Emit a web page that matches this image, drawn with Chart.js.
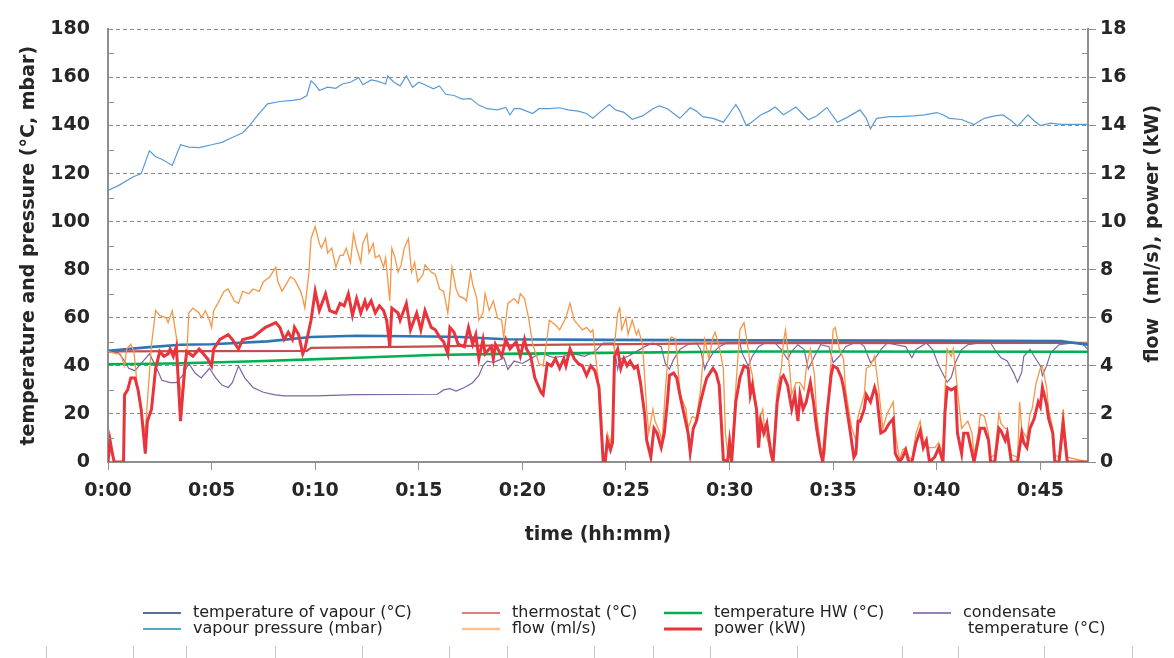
<!DOCTYPE html>
<html>
<head>
<meta charset="utf-8">
<script src="https://cdn.jsdelivr.net/npm/chart.js@4.4.1/dist/chart.umd.min.js"></script>
<style>
  html, body { margin: 0; padding: 0; background: #fff; }
  #wrap { width: 1174px; height: 658px; position: relative; }
</style>
</head>
<body>
<div id="wrap"><canvas id="chart"></canvas></div>
<script>
// time in minutes
const timeTicks = ['0:00', '0:05', '0:10', '0:15', '0:20', '0:25', '0:30', '0:35', '0:40', '0:45'];
const X_MAX = 47.3;

// left axis (°C, mbar)
const vapourPressure = [[0,113],[0.5,115],[1.2,118.6],[1.6,120],[2.0,129.5],[2.3,127],[2.6,126],[3.1,123.4],[3.5,132],[3.9,131],[4.4,130.8],[5.0,132],[5.5,133],[6.0,135],[6.5,137],[6.8,139.7],[7.2,144],[7.7,149],[8.3,150],[8.9,150.5],[9.3,151],[9.6,152.5],[9.8,158.6],[10.0,157],[10.2,154.6],[10.6,156],[11.0,155.5],[11.3,157.3],[11.7,158],[12.1,160],[12.3,157],[12.7,159],[13.0,158.5],[13.4,157.3],[13.5,160.6],[13.8,158],[14.1,156.5],[14.4,160.6],[14.7,155.9],[15.0,158],[15.3,157],[15.7,155.3],[16.0,156.5],[16.3,153],[16.7,152.5],[17.1,151],[17.5,151.2],[17.9,148.5],[18.3,147],[18.8,146.5],[19.2,147.5],[19.4,144.4],[19.6,147],[19.9,147],[20.2,146],[20.5,145],[20.8,147],[21.3,147],[21.8,147.4],[22.2,146.5],[22.7,146],[23.1,145],[23.4,143],[23.8,146],[24.2,148.7],[24.5,146.5],[24.9,145.5],[25.3,142.6],[25.8,144],[26.3,147],[26.6,148.2],[27.0,147],[27.3,145],[27.6,143],[28.1,147.4],[28.4,146],[28.7,143.7],[29.2,143],[29.7,141.4],[30.0,145],[30.3,148.7],[30.5,146],[30.8,140],[31.0,141],[31.5,144.4],[31.9,146],[32.2,147.7],[32.6,144.5],[32.9,146],[33.2,147.7],[33.5,145],[33.8,142.4],[34.2,144],[34.7,147.5],[34.9,145],[35.2,141.4],[35.7,143.5],[36.3,146.5],[36.6,143],[36.8,138.6],[37.1,143],[37.7,143.7],[38.2,143.7],[38.9,144],[39.4,144.4],[40.0,145.4],[40.3,144.5],[40.6,143],[41.2,142.5],[41.8,140.4],[42.3,143],[42.8,144],[43.2,144.4],[43.6,142],[43.9,139.7],[44.4,144.4],[44.7,142],[45.0,140],[45.5,141],[46.0,140.5],[47.3,140.5]];
const vapourTemp = [[0,46.3],[2,47.8],[3.5,48.8],[5,49],[7.7,50.2],[9.8,52],[12,52.5],[15.7,52.2],[17,52],[19.2,51.1],[24,50.8],[31,50.6],[40,50.5],[46,50.3],[47.3,48.8]];
const thermostat = [[0,46],[9.6,46.2],[9.8,47.5],[15,48],[20,48.6],[22,48.8],[31,49.5],[47.3,49.6]];
const tempHW = [[0,40.7],[3,41],[5,41.4],[7.5,42],[9.8,42.7],[12,43.4],[15.7,44.5],[19,45],[24,45.4],[31,46],[47.3,45.9]];
const condensate = [[0,46],[0.5,45.5],[0.8,42],[1.0,39],[1.3,38],[1.6,41],[2.0,45],[2.3,40],[2.6,34],[3.0,33],[3.3,33],[3.6,36],[3.9,41],[4.2,37],[4.5,35],[4.9,39],[5.2,35],[5.5,32],[5.8,31],[6.0,33],[6.3,40],[6.6,35],[7.0,31],[7.5,29],[8.0,28],[8.5,27.5],[10,27.5],[12,28],[15.9,28.2],[16.2,30],[16.5,30.5],[16.8,29.5],[17.2,31],[17.6,33],[17.9,36],[18.1,40],[18.3,42],[18.6,41.5],[18.9,42.5],[19.1,43.5],[19.3,38.5],[19.6,42],[20.0,41],[20.3,42.5],[20.7,44.5],[21.0,45],[21.5,43.5],[22.0,44],[22.5,45],[23.0,44],[23.5,46],[23.9,49.5],[24.4,49.5],[24.6,38.6],[24.7,42.7],[25.1,44],[25.4,45.4],[25.9,48],[26.3,49.5],[26.7,48],[26.9,41],[27.1,38.6],[27.3,42.7],[27.6,46.8],[28.0,49],[28.4,49.5],[28.6,46.8],[28.8,38.6],[28.9,41],[29.2,45.4],[29.5,48],[29.9,49.7],[30.5,49.5],[30.6,45.4],[30.9,40],[31.1,44],[31.4,48],[31.7,49.5],[32.2,49.5],[32.5,46.8],[32.8,42.7],[33.0,46],[33.3,48.8],[33.6,46.8],[33.8,38.6],[34.1,44],[34.4,48.8],[34.8,48],[35.0,41.4],[35.3,44],[35.6,48],[36.0,49.5],[36.3,49.5],[36.5,48],[36.8,41.4],[37.0,42.7],[37.3,46.8],[37.6,49.5],[38.5,48],[38.8,43.4],[39.0,46.8],[39.5,49.5],[39.8,46.8],[40.1,40],[40.5,33.2],[40.7,35.2],[40.9,41.4],[41.2,46.8],[41.5,48.8],[42.0,49.5],[42.6,49.5],[42.8,46.8],[43.1,43.4],[43.4,42],[43.7,37.3],[43.9,33.2],[44.1,37.3],[44.2,44],[44.5,46.8],[44.7,44],[45.0,40],[45.1,36],[45.3,40],[45.5,45.4],[45.9,48.8],[46.5,49.5],[47.0,49.5],[47.3,46.8]];

// right axis (ml/s, kW)
const flow = [[0,4.6],[0.4,4.5],[0.6,4.5],[0.8,4.0],[0.9,4.7],[1.1,4.9],[1.25,4.6],[1.4,3.3],[1.6,2.0],[1.8,1.2],[1.9,2.5],[2.1,4.9],[2.3,6.3],[2.5,6.1],[2.8,6.0],[2.9,5.8],[3.1,6.3],[3.3,5.2],[3.4,3.6],[3.6,2.5],[3.8,4.4],[3.9,6.2],[4.1,6.4],[4.4,6.2],[4.5,6.0],[4.7,6.3],[4.9,5.9],[5.0,5.6],[5.1,6.3],[5.3,6.6],[5.6,7.1],[5.8,7.2],[6.1,6.7],[6.3,6.6],[6.5,7.1],[6.8,7.0],[7.0,7.2],[7.3,7.1],[7.5,7.5],[7.8,7.7],[8.1,8.1],[8.2,7.5],[8.4,7.1],[8.6,7.4],[8.8,7.7],[9.0,7.6],[9.3,7.1],[9.4,6.8],[9.5,6.4],[9.7,7.9],[9.8,9.3],[10.0,9.8],[10.2,9.1],[10.3,8.9],[10.5,9.3],[10.6,8.7],[10.8,8.9],[11.0,8.1],[11.2,8.6],[11.35,8.6],[11.5,8.9],[11.7,8.3],[11.85,9.5],[12.0,8.9],[12.2,8.3],[12.3,9.1],[12.5,9.5],[12.6,8.7],[12.8,9.1],[12.9,8.5],[13.1,8.6],[13.3,8.1],[13.4,8.5],[13.6,6.7],[13.7,8.9],[13.85,8.5],[14.0,7.9],[14.15,8.2],[14.3,8.9],[14.5,9.3],[14.65,7.9],[14.8,8.3],[14.95,7.5],[15.2,7.8],[15.3,8.2],[15.6,7.9],[15.8,7.8],[16.0,7.2],[16.2,7.1],[16.4,6.2],[16.5,7.0],[16.6,8.1],[16.8,7.2],[16.95,6.9],[17.2,6.8],[17.3,6.7],[17.5,7.9],[17.6,7.4],[17.8,6.8],[17.9,5.9],[18.1,6.2],[18.2,7.0],[18.4,6.3],[18.6,6.7],[18.8,6.0],[19.0,5.9],[19.1,5.2],[19.3,6.6],[19.6,6.8],[19.8,6.6],[19.9,7.0],[20.1,6.8],[20.3,6.0],[20.5,4.9],[20.8,4.1],[21.0,4.0],[21.2,5.2],[21.3,5.9],[21.6,5.7],[21.8,5.5],[22.1,6.0],[22.3,6.6],[22.5,5.9],[22.6,5.8],[22.9,5.5],[23.1,5.6],[23.3,5.4],[23.4,5.5],[23.6,3.9],[23.8,2.2],[23.9,0.4],[24.0,0.3],[24.1,1.2],[24.25,0.8],[24.35,1.4],[24.45,4.9],[24.6,6.2],[24.7,6.4],[24.8,5.5],[25.0,6.0],[25.1,5.3],[25.3,5.9],[25.5,5.3],[25.6,5.5],[25.8,4.9],[26.0,2.2],[26.1,1.2],[26.3,2.2],[26.4,1.7],[26.6,1.3],[26.75,0.9],[26.9,3.0],[27.1,5.1],[27.2,5.2],[27.4,5.1],[27.6,3.0],[27.7,2.6],[27.9,2.2],[28.0,1.4],[28.2,1.9],[28.4,1.8],[28.6,3.0],[28.8,5.1],[29.0,4.3],[29.2,5.2],[29.3,5.4],[29.5,4.8],[29.7,3.9],[29.8,1.2],[29.9,0.4],[30.0,1.2],[30.1,0.3],[30.3,3.1],[30.5,5.5],[30.7,5.8],[30.9,4.7],[31.0,4.0],[31.1,3.6],[31.3,2.2],[31.4,1.7],[31.6,2.2],[31.7,1.3],[32.0,0.4],[32.1,0.2],[32.3,3.1],[32.5,3.9],[32.6,5.0],[32.7,5.5],[32.9,3.9],[33.0,2.8],[33.2,3.3],[33.4,3.3],[33.6,3.0],[33.7,3.9],[33.9,4.7],[34.1,3.6],[34.2,2.0],[34.4,0.6],[34.6,0.35],[34.8,3.0],[35.0,5.5],[35.1,5.6],[35.3,4.7],[35.5,4.3],[35.6,3.0],[35.9,1.4],[36.1,0.9],[36.2,1.9],[36.3,2.2],[36.5,2.8],[36.6,3.9],[36.8,4.0],[37.0,4.4],[37.2,3.0],[37.4,1.4],[37.6,2.0],[37.9,2.5],[38.0,1.2],[38.2,0.1],[38.35,0.5],[38.5,0.6],[38.65,0.2],[38.8,0.1],[39.0,1.2],[39.2,1.7],[39.35,0.9],[39.6,0.6],[39.9,0.6],[40.1,0.8],[40.3,0.35],[40.4,3.0],[40.5,4.7],[40.7,4.4],[40.8,4.7],[41.0,3.0],[41.2,1.4],[41.3,1.5],[41.5,1.7],[41.7,1.2],[41.8,0.3],[42.0,1.2],[42.1,2.0],[42.3,1.9],[42.5,1.2],[42.6,0.2],[42.8,0.3],[43.0,2.0],[43.1,1.6],[43.3,1.4],[43.4,1.4],[43.6,0.3],[43.9,0.2],[44.0,2.5],[44.1,1.4],[44.2,1.2],[44.35,1.0],[44.5,2.0],[44.6,2.2],[44.8,3.3],[45.0,3.9],[45.1,4.0],[45.3,3.1],[45.4,2.2],[45.6,1.4],[45.7,0.3],[45.9,0.2],[46.1,2.2],[46.3,0.2],[47.3,0]];
const power = [[0,0],[0.1,0.9],[0.2,0.4],[0.3,0],[0.75,0],[0.8,2.8],[0.95,3.0],[1.1,3.5],[1.3,3.5],[1.45,3.0],[1.6,2.2],[1.8,0.35],[1.9,1.7],[2.1,2.2],[2.3,3.9],[2.5,4.6],[2.7,4.4],[2.9,4.5],[3.0,4.7],[3.15,4.4],[3.3,4.8],[3.5,1.7],[3.7,3.9],[3.8,4.6],[4.1,4.4],[4.4,4.7],[4.6,4.5],[4.8,4.3],[5.0,4.0],[5.1,4.7],[5.4,5.1],[5.8,5.3],[6.0,5.1],[6.3,4.7],[6.5,5.1],[7.0,5.2],[7.3,5.4],[7.6,5.6],[8.1,5.8],[8.3,5.6],[8.5,5.1],[8.7,5.4],[8.9,5.1],[9.0,5.6],[9.2,5.3],[9.4,4.5],[9.5,4.7],[9.8,5.9],[10.0,7.1],[10.2,6.3],[10.5,7.0],[10.7,6.3],[11.0,6.2],[11.2,6.6],[11.4,6.5],[11.6,7.0],[11.8,6.1],[12.0,6.8],[12.2,6.2],[12.4,6.7],[12.5,6.4],[12.7,6.7],[12.9,6.2],[13.1,6.5],[13.3,6.3],[13.45,5.9],[13.6,4.8],[13.7,6.4],[14.0,6.2],[14.1,5.9],[14.4,6.6],[14.6,5.5],[14.9,6.2],[15.1,5.5],[15.3,6.3],[15.6,5.6],[15.8,5.5],[16.0,5.2],[16.2,5.0],[16.4,4.5],[16.5,5.6],[16.7,5.4],[16.9,4.9],[17.2,4.8],[17.4,5.6],[17.6,4.9],[17.75,5.3],[17.9,4.3],[18.1,5.1],[18.2,4.5],[18.5,4.8],[18.6,4.3],[18.7,4.9],[19.0,4.4],[19.2,5.1],[19.4,4.7],[19.7,5.0],[19.9,4.4],[20.1,5.1],[20.2,4.7],[20.4,4.4],[20.6,3.5],[20.9,2.9],[21.0,2.8],[21.2,4.1],[21.4,4.0],[21.6,4.3],[21.8,3.9],[22.0,4.3],[22.1,4.0],[22.3,4.7],[22.5,4.3],[22.7,4.1],[22.9,4.0],[23.1,3.6],[23.3,4.0],[23.5,3.8],[23.7,3.1],[23.8,1.5],[23.9,0],[24.0,0],[24.1,0.9],[24.25,0.5],[24.35,0.8],[24.45,4.4],[24.6,4.7],[24.75,3.9],[24.9,4.3],[25.05,4.0],[25.2,4.2],[25.4,3.9],[25.55,4.0],[25.7,3.3],[25.9,2.0],[26.0,0.9],[26.2,0.2],[26.35,1.4],[26.5,1.2],[26.7,0.6],[26.85,1.2],[27.0,2.5],[27.1,3.6],[27.3,3.7],[27.45,3.5],[27.6,2.8],[27.8,2.0],[28.0,1.2],[28.1,0.4],[28.25,1.4],[28.4,1.7],[28.6,2.5],[28.8,3.2],[28.9,3.5],[29.05,3.7],[29.2,3.9],[29.35,3.7],[29.5,3.2],[29.7,0.1],[29.9,0],[30.0,0.8],[30.1,0],[30.3,2.5],[30.5,3.5],[30.7,4.0],[30.9,3.9],[31.0,2.8],[31.1,3.2],[31.3,2.2],[31.4,0.6],[31.5,1.7],[31.65,1.2],[31.8,1.6],[32.0,0.35],[32.1,0],[32.3,2.5],[32.5,3.5],[32.6,3.6],[32.8,3.2],[33.0,2.2],[33.15,2.8],[33.3,1.7],[33.4,2.8],[33.55,2.2],[33.7,2.5],[33.9,3.3],[34.05,2.5],[34.2,1.4],[34.4,0.35],[34.5,0],[34.7,2.0],[34.9,3.6],[35.0,4.0],[35.2,3.9],[35.4,3.5],[35.5,3.1],[35.8,1.4],[36.0,0.2],[36.1,0.35],[36.2,1.7],[36.3,1.7],[36.5,2.2],[36.6,2.8],[36.8,2.5],[37.0,3.1],[37.1,2.8],[37.3,1.2],[37.5,1.3],[37.7,1.6],[37.9,1.8],[38.0,0.35],[38.2,0],[38.35,0.2],[38.5,0.5],[38.65,0],[38.8,0],[39.0,0.8],[39.2,1.3],[39.35,0.6],[39.5,0.9],[39.65,0],[39.9,0.2],[40.1,0.6],[40.3,0],[40.4,2.1],[40.5,3.1],[40.7,3.0],[40.9,3.1],[41.0,1.2],[41.2,0.35],[41.3,1.2],[41.5,1.2],[41.65,0.6],[41.8,0],[42.0,0.9],[42.1,1.4],[42.3,1.4],[42.5,0.9],[42.6,0],[42.8,0],[43.0,1.4],[43.1,1.3],[43.3,0.9],[43.4,1.2],[43.6,0],[43.9,0],[44.1,1.2],[44.2,0.8],[44.35,0.6],[44.5,1.4],[44.7,1.8],[44.9,2.5],[45.0,2.3],[45.1,3.1],[45.3,2.4],[45.4,1.8],[45.6,1.2],[45.7,0],[45.9,0],[46.1,1.6],[46.3,0],[47.3,0]];

const FONT = 'DejaVu Sans';
const INK = '#262626';
const AXIS = '#8f8f8f';

const toXY = arr => arr.map(p => ({ x: p[0], y: p[1] }));
const line = (label, arr, color, width, axis, order) => ({
    label, data: toXY(arr), borderColor: color, backgroundColor: color,
    borderWidth: width, pointRadius: 0, tension: 0, yAxisID: axis, order
});

// legend as laid out in the original (4 columns, 2 rows)
const legendItems = [
    { text: 'temperature of vapour (°C)', color: '#203e7a', x: 143, y: 613, w: 1.6 },
    { text: 'vapour pressure (mbar)', color: '#4bacc6', x: 143, y: 629, w: 2.2 },
    { text: 'thermostat (°C)', color: '#d9534f', x: 462, y: 613, w: 1.4 },
    { text: 'flow (ml/s)', color: '#fac090', x: 462, y: 629, w: 2.6 },
    { text: 'temperature HW (°C)', color: '#00b050', x: 664, y: 613, w: 2.4 },
    { text: 'power (kW)', color: '#e8343c', x: 664, y: 629, w: 2.8 },
    { text: 'condensate', color: '#9a7fbf', x: 913, y: 613, w: 2.2 },
    { text: ' temperature (°C)', color: null, x: 913, y: 629, w: 0 }
];

const decorPlugin = {
    id: 'decor',
    afterDraw(chart) {
        const ctx = chart.ctx;
        const yl = chart.scales.y, yr = chart.scales.y1;
        ctx.save();
        // minor ticks inside the plot
        ctx.strokeStyle = AXIS; ctx.lineWidth = 1;
        for (let v = 10; v < 180; v += 20) {
            const py = Math.round(yl.getPixelForValue(v)) + 0.5;
            ctx.beginPath(); ctx.moveTo(yl.right, py); ctx.lineTo(yl.right + 6, py); ctx.stroke();
        }
        for (let v = 1; v < 18; v += 2) {
            const py = Math.round(yr.getPixelForValue(v)) + 0.5;
            ctx.beginPath(); ctx.moveTo(yr.left - 6, py); ctx.lineTo(yr.left, py); ctx.stroke();
        }
        // right title, read bottom to top like the left one
        ctx.fillStyle = INK;
        ctx.font = 'bold 19px "' + FONT + '"';
        ctx.textAlign = 'center'; ctx.textBaseline = 'middle';
        ctx.translate(1153, (chart.chartArea.top + chart.chartArea.bottom) / 2 - 12);
        ctx.rotate(-Math.PI / 2);
        ctx.fillText('flow  (ml/s), power (kW)', 0, 0);
        ctx.restore();

        // legend
        ctx.save();
        ctx.font = '16px "' + FONT + '"';
        ctx.textBaseline = 'middle'; ctx.textAlign = 'left';
        legendItems.forEach(it => {
            if (it.color) {
                ctx.strokeStyle = it.color; ctx.lineWidth = it.w;
                ctx.beginPath(); ctx.moveTo(it.x, it.y); ctx.lineTo(it.x + 38, it.y); ctx.stroke();
            }
            ctx.fillStyle = '#222';
            ctx.fillText(it.text, it.x + 50, it.y);
        });
        // faint table rules under the legend
        ctx.strokeStyle = '#c8c8c8'; ctx.lineWidth = 1;
        [46, 133, 186, 275, 362, 449, 507, 594, 653, 710, 797, 902, 958, 1044, 1132].forEach(x => {
            ctx.beginPath(); ctx.moveTo(x + 0.5, 646); ctx.lineTo(x + 0.5, 658); ctx.stroke();
        });
        ctx.restore();
    }
};

new Chart(document.getElementById('chart').getContext('2d'), {
    type: 'line',
    data: {
        datasets: [
            line('power (kW)', power, '#e8343c', 3, 'y1', 0),
            line('flow (ml/s)', flow, '#f79646', 1.3, 'y1', 1),
            line('temperature of vapour (°C)', vapourTemp, '#2e75b6', 2.6, 'y', 2),
            line('thermostat (°C)', thermostat, '#c0504d', 2.2, 'y', 3),
            line('temperature HW (°C)', tempHW, '#00b050', 2.6, 'y', 4),
            line('condensate temperature (°C)', condensate, '#8064a2', 1.2, 'y', 5),
            line('vapour pressure (mbar)', vapourPressure, '#5b9bd5', 1.2, 'y', 6)
        ]
    },
    options: {
        responsive: true,
        maintainAspectRatio: false,
        animation: false,
        devicePixelRatio: 1,
        layout: { padding: { top: 18, bottom: 106, left: 0, right: 0 } },
        plugins: { legend: { display: false }, tooltip: { enabled: false } },
        scales: {
            x: {
                type: 'linear', min: 0, max: X_MAX,
                afterFit: s => { s.height = 90; },
                afterBuildTicks: s => { s.ticks = timeTicks.map((_, i) => ({ value: i * 5 })); },
                ticks: {
                    color: INK, padding: 10, maxRotation: 0, autoSkip: false,
                    font: { family: FONT, size: 19, weight: 'bold' },
                    callback: v => timeTicks[Math.round(v / 5)]
                },
                grid: { drawOnChartArea: false, drawTicks: true, tickLength: 8, color: AXIS },
                border: { color: AXIS, width: 2 },
                title: { display: true, text: 'time (hh:mm)', color: INK, padding: { top: 0, bottom: 6 },
                         font: { family: FONT, size: 19, weight: 'bold' } }
            },
            y: {
                position: 'left', min: 0, max: 180,
                afterFit: s => { s.width = 108; },
                ticks: { stepSize: 20, color: INK, padding: 18, font: { family: FONT, size: 19, weight: 'bold' } },
                grid: { color: '#8c8c8c', lineWidth: 1, drawTicks: false },
                border: { color: AXIS, width: 2, dash: [4, 3] },
                title: { display: true, text: 'temperature and pressure (°C, mbar)', color: INK,
                         padding: { top: 18, bottom: 0 }, font: { family: FONT, size: 19, weight: 'bold' } }
            },
            y1: {
                position: 'right', min: 0, max: 18,
                afterFit: s => { s.width = 86; },
                ticks: { stepSize: 2, color: INK, padding: 4, font: { family: FONT, size: 19, weight: 'bold' } },
                grid: { drawOnChartArea: false, drawTicks: true, tickLength: 8, color: AXIS },
                border: { color: AXIS, width: 2 }
            }
        }
    },
    plugins: [decorPlugin]
});
</script>
</body>
</html>
